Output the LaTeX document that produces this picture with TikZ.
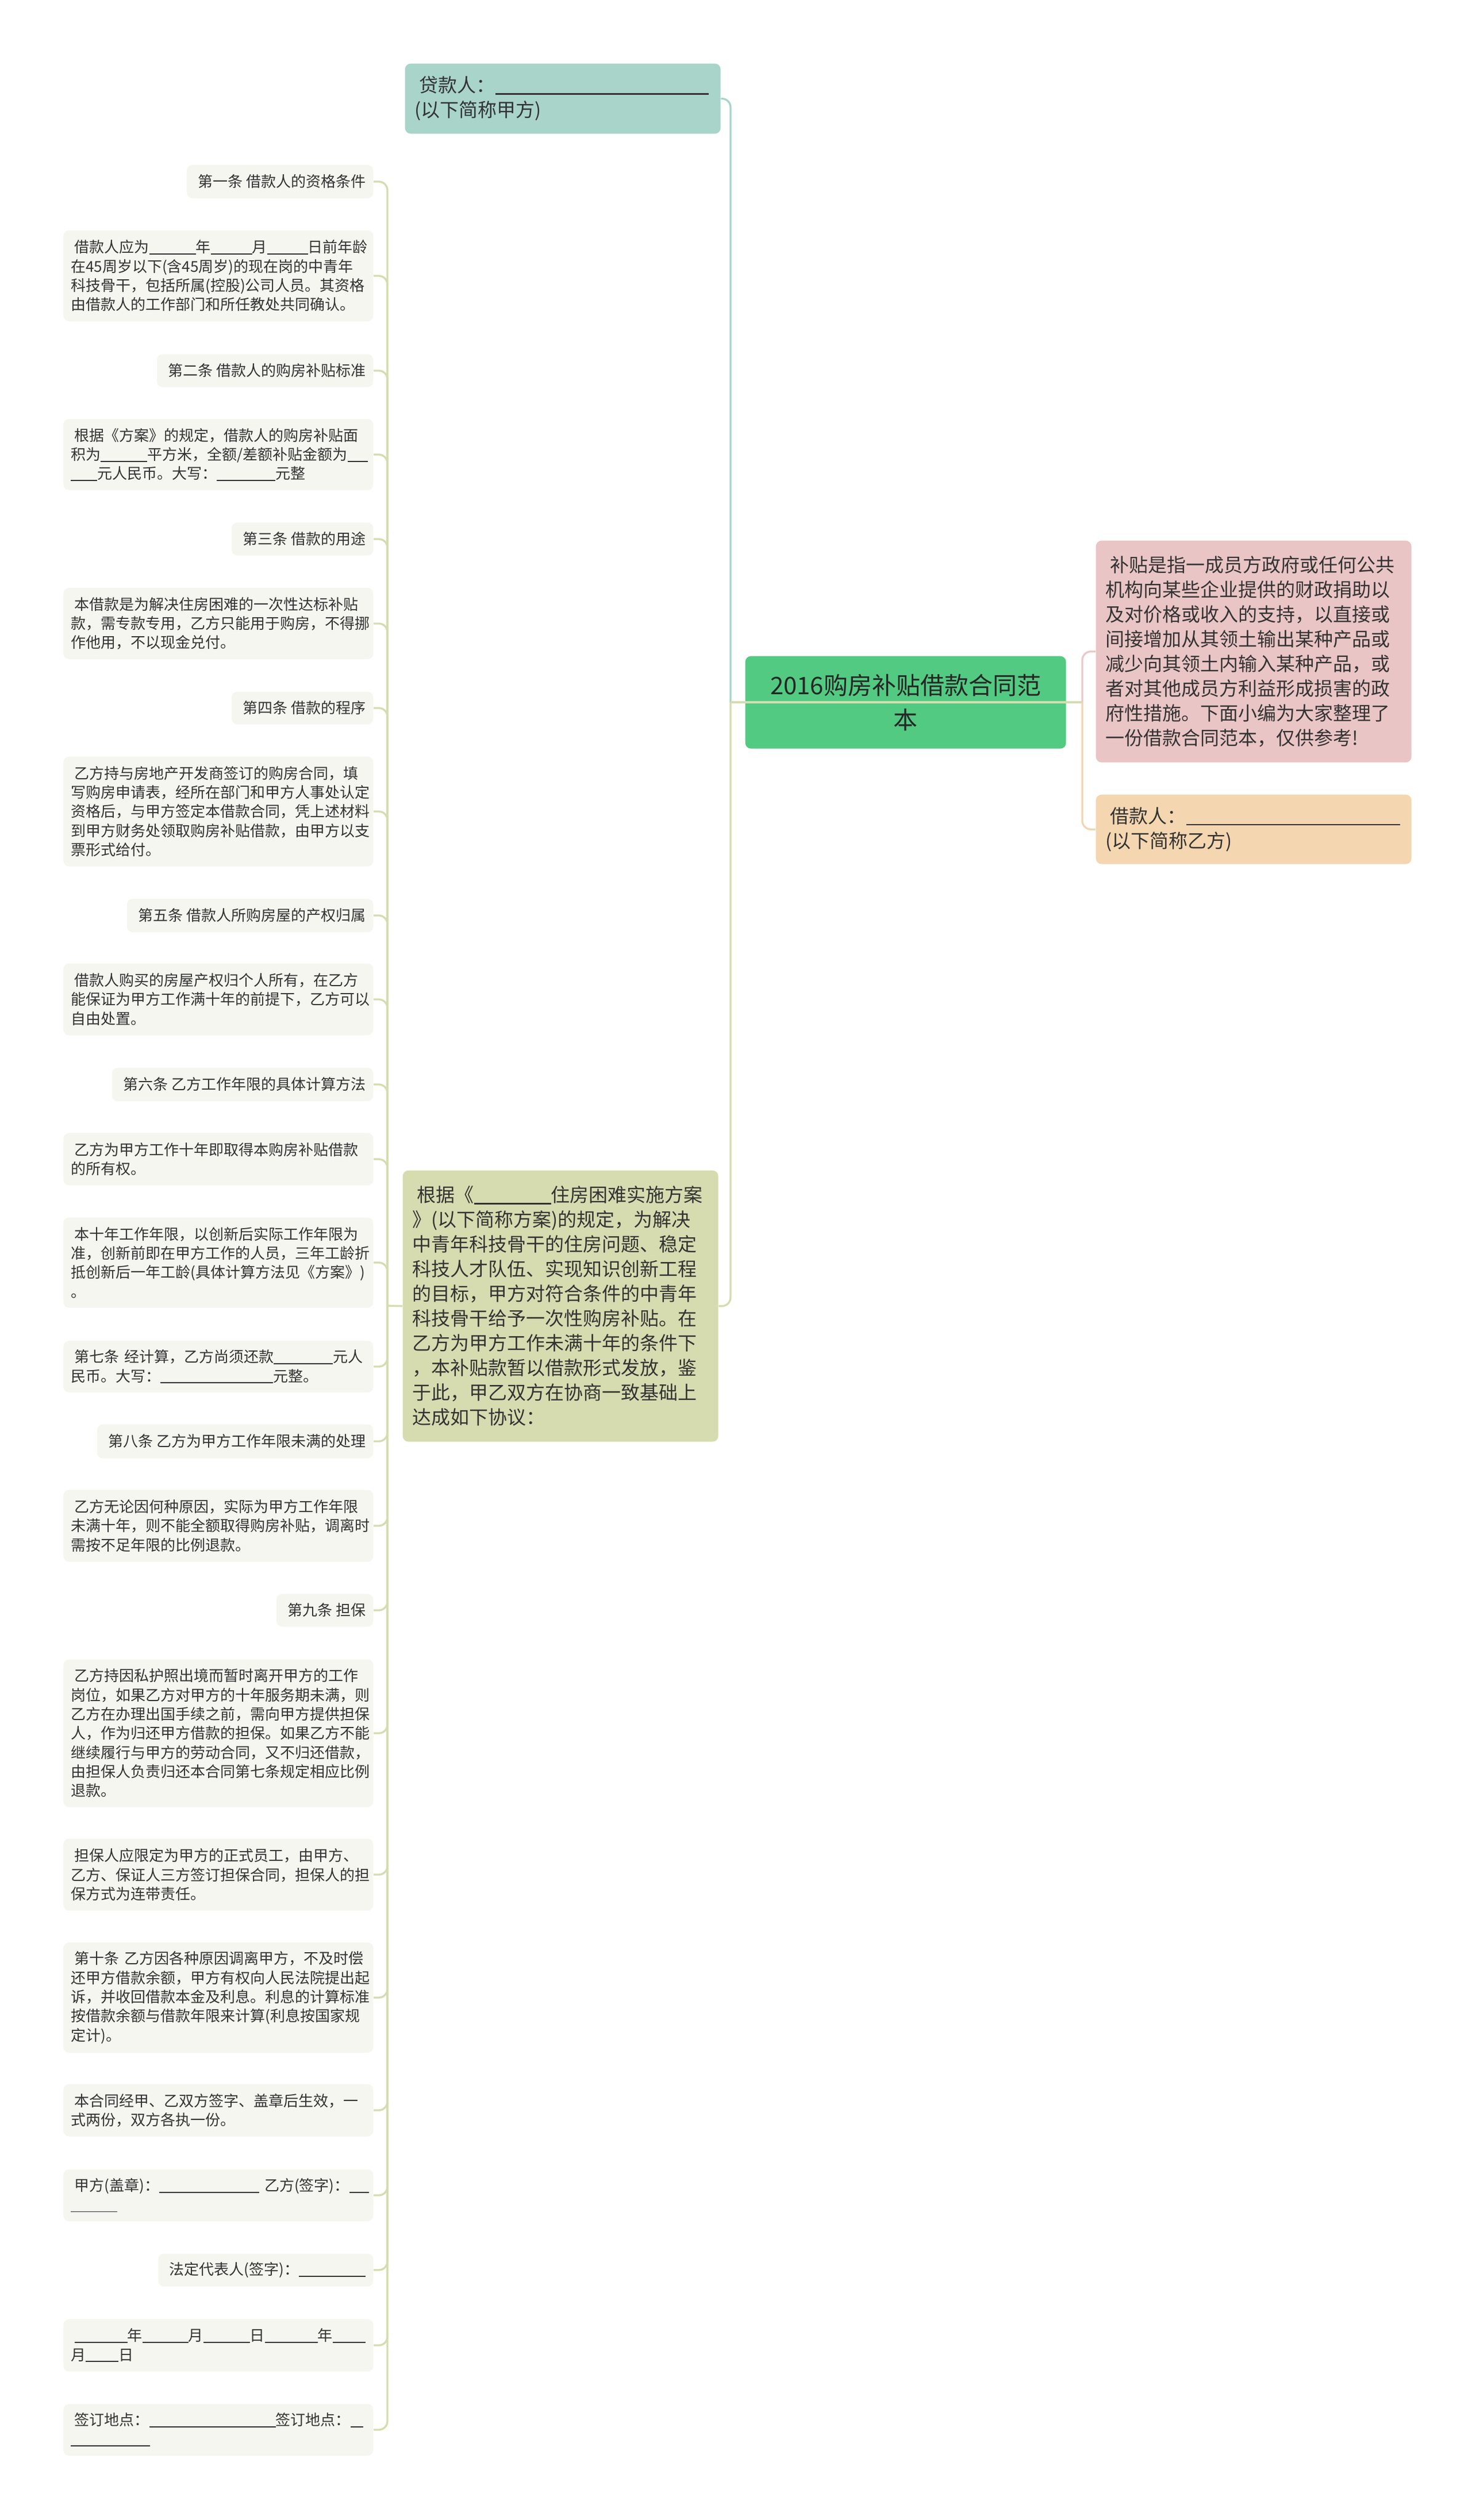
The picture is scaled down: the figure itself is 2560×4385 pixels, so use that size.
\documentclass[tikz,border=0pt]{standalone}
\usepackage{fontspec}
\setmainfont{Noto Sans CJK SC}
\usetikzlibrary{positioning}
\newdimen\pxu \pxu=0.3pt
\definecolor{leaffill}{RGB}{245,246,239}
\definecolor{ink}{RGB}{51,51,51}
\definecolor{tealfill}{RGB}{168,212,202}
\definecolor{mainfill}{RGB}{83,202,129}
\definecolor{pinkfill}{RGB}{234,197,197}
\definecolor{peachfill}{RGB}{244,214,176}
\definecolor{olivefill}{RGB}{214,220,175}
\definecolor{oliveline}{RGB}{214,220,175}
\definecolor{pinkline}{RGB}{236,200,200}
\definecolor{peachline}{RGB}{240,214,180}
\newcommand\fillin[1]{\rule[-0.12em]{#1\pxu}{0.07em}}
\newcommand\lead{\hspace*{0.25em}}
\tikzset{leaf/.style={rounded corners=3pt,fill=leaffill,text=ink,inner xsep=13\pxu,inner ysep=0pt,
           font=\fontsize{7.8}{10}\selectfont,anchor=east},
         leafbox/.style={leaf,text width=513\pxu,align=left},
         card/.style={rounded corners=3pt,text=ink,inner xsep=17\pxu,inner ysep=0pt,text width=515\pxu,
           align=left,font=\fontsize{9.9}{12.9}\selectfont,anchor=north west},
         link/.style={line width=1pt,rounded corners=4.5pt}
}

\begin{document}
\begin{tikzpicture}[x=0.3pt,y=-0.3pt]

\fill[white] (0,0) rectangle (2560,4385);

\node[card,fill=mainfill,text=black!85,text width=520\pxu,inner xsep=19\pxu,align=center,
      font=\fontsize{12.6}{18}\selectfont,minimum height=161\pxu] (main) at (1296,1141)
      {2016购房补贴借款合同范\\本};
\node[card,fill=tealfill,minimum height=122\pxu] (lender) at (704,110)
      {\lead 贷款人：\fillin{371}\\(以下简称甲方)};
\node[card,fill=pinkfill,minimum height=386\pxu] (note) at (1906,940)
      {\lead 补贴是指一成员方政府或任何公共\\机构向某些企业提供的财政捐助以\\及对价格或收入的支持，以直接或\\间接增加从其领土输出某种产品或\\减少向其领土内输入某种产品，或\\者对其他成员方利益形成损害的政\\府性措施。下面小编为大家整理了\\一份借款合同范本，仅供参考!};
\node[card,fill=peachfill,minimum height=121\pxu] (borrower) at (1906,1382)
      {\lead 借款人：\fillin{372}\\(以下简称乙方)};
\node[card,fill=olivefill,minimum height=472\pxu] (gen) at (700,2036)
      {\lead 根据《\fillin{134}住房困难实施方案\\》(以下简称方案)的规定，为解决\\中青年科技骨干的住房问题、稳定\\科技人才队伍、实现知识创新工程\\的目标，甲方对符合条件的中青年\\科技骨干给予一次性购房补贴。在\\乙方为甲方工作未满十年的条件下\\，本补贴款暂以借款形式发放，鉴\\于此，甲乙双方在协商一致基础上\\达成如下协议：};

\node[leaf,minimum height=58\pxu] (art1) at (650,316) {\lead 第一条~借款人的资格条件};
\node[leafbox,minimum height=158\pxu] (art1a) at (650,480)
      {\lead 借款人应为\fillin{81}年\fillin{72}月\fillin{71}日前年龄\\在45周岁以下(含45周岁)的现在岗的中青年\\科技骨干，包括所属(控股)公司人员。其资格\\由借款人的工作部门和所任教处共同确认。};
\node[leaf,minimum height=57\pxu] (art2) at (650,645) {\lead 第二条~借款人的购房补贴标准};
\node[leafbox,minimum height=124\pxu] (art2a) at (650,791)
      {\lead 根据《方案》的规定，借款人的购房补贴面\\积为\fillin{81}平方米，全额/差额补贴金额为\fillin{35}\\\fillin{46}元人民币。大写：\fillin{102}元整};
\node[leaf,minimum height=57\pxu] (art3) at (650,938) {\lead 第三条~借款的用途};
\node[leafbox,minimum height=124\pxu] (art3a) at (650,1085)
      {\lead 本借款是为解决住房困难的一次性达标补贴\\款，需专款专用，乙方只能用于购房，不得挪\\作他用，不以现金兑付。};
\node[leaf,minimum height=57\pxu] (art4) at (650,1232) {\lead 第四条~借款的程序};
\node[leafbox,minimum height=191\pxu] (art4a) at (650,1412)
      {\lead 乙方持与房地产开发商签订的购房合同，填\\写购房申请表，经所在部门和甲方人事处认定\\资格后，与甲方签定本借款合同，凭上述材料\\到甲方财务处领取购房补贴借款，由甲方以支\\票形式给付。};
\node[leaf,minimum height=58\pxu] (art5) at (650,1593) {\lead 第五条~借款人所购房屋的产权归属};
\node[leafbox,minimum height=125\pxu] (art5a) at (650,1739)
      {\lead 借款人购买的房屋产权归个人所有，在乙方\\能保证为甲方工作满十年的前提下，乙方可以\\自由处置。};
\node[leaf,minimum height=58\pxu] (art6) at (650,1887) {\lead 第六条~乙方工作年限的具体计算方法};
\node[leafbox,minimum height=91\pxu] (art6a) at (650,2017)
      {\lead 乙方为甲方工作十年即取得本购房补贴借款\\的所有权。};
\node[leafbox,minimum height=157\pxu] (art6b) at (650,2197)
      {\lead 本十年工作年限，以创新后实际工作年限为\\准，创新前即在甲方工作的人员，三年工龄折\\抵创新后一年工龄(具体计算方法见《方案》)\\。};
\node[leafbox,minimum height=90\pxu] (art7) at (650,2378)
      {\lead 第七条~经计算，乙方尚须还款\fillin{103}元人\\民币。大写：\fillin{196}元整。};
\node[leaf,minimum height=59\pxu] (art8) at (650,2508) {\lead 第八条~乙方为甲方工作年限未满的处理};
\node[leafbox,minimum height=125\pxu] (art8a) at (650,2655)
      {\lead 乙方无论因何种原因，实际为甲方工作年限\\未满十年，则不能全额取得购房补贴，调离时\\需按不足年限的比例退款。};
\node[leaf,minimum height=57\pxu] (art9) at (650,2802) {\lead 第九条~担保};
\node[leafbox,minimum height=257\pxu] (art9a) at (650,3016)
      {\lead 乙方持因私护照出境而暂时离开甲方的工作\\岗位，如果乙方对甲方的十年服务期未满，则\\乙方在办理出国手续之前，需向甲方提供担保\\人，作为归还甲方借款的担保。如果乙方不能\\继续履行与甲方的劳动合同，又不归还借款，\\由担保人负责归还本合同第七条规定相应比例\\退款。};
\node[leafbox,minimum height=125\pxu] (art9b) at (650,3262)
      {\lead 担保人应限定为甲方的正式员工，由甲方、\\乙方、保证人三方签订担保合同，担保人的担\\保方式为连带责任。};
\node[leafbox,minimum height=192\pxu] (art10) at (650,3476)
      {\lead 第十条~乙方因各种原因调离甲方，不及时偿\\还甲方借款余额，甲方有权向人民法院提出起\\诉，并收回借款本金及利息。利息的计算标准\\按借款余额与借款年限来计算(利息按国家规\\定计)。};
\node[leafbox,minimum height=91\pxu] (close) at (650,3672)
      {\lead 本合同经甲、乙双方签字、盖章后生效，一\\式两份，双方各执一份。};
\node[leafbox,minimum height=90\pxu] (signa) at (650,3820)
      {\lead 甲方(盖章)：\fillin{174}~乙方(签字)：\fillin{34}\\\fillin{81}};
\node[leaf,minimum height=57\pxu] (signb) at (650,3950) {\lead 法定代表人(签字)：\fillin{116}};
\node[leafbox,minimum height=91\pxu] (date) at (650,4081)
      {\lead \fillin{92}年\fillin{80}月\fillin{81}日\fillin{92}年\fillin{57}\\月\fillin{57}日};
\node[leafbox,minimum height=90\pxu] (place) at (650,4228)
      {\lead 签订地点：\fillin{220}签订地点：\fillin{22}\\\fillin{138}};

\coordinate (mhub) at (1271,1222);
\coordinate (rhub) at (1883,1222);
\coordinate (lhub) at (674,2272);

\draw[link,tealfill] (mhub) |- (lender.east);
\draw[link,oliveline] (mhub) |- (gen.east);
\draw[link,oliveline] (gen.west) -- (lhub);
\draw[link,oliveline] (mhub) -- (rhub);
\draw[link,pinkline] (rhub) |- (note.west);
\draw[link,peachline] (rhub) |- (borrower.west);
\foreach \leafname in {art1,art1a,art2,art2a,art3,art3a,art4,art4a,art5,art5a,art6,art6a,art6b,art7,
    art8,art8a,art9,art9a,art9b,art10,close,signa,signb,date,place}
  \draw[link,oliveline] (lhub) |- (\leafname.east);

\end{tikzpicture}
\end{document}
